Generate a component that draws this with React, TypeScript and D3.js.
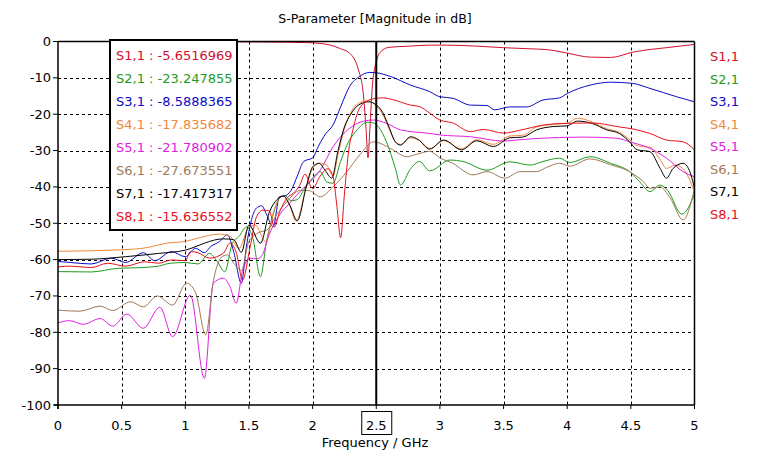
import React from "react";
import * as d3 from "d3";

type Pt = [number, number];

const xTicks = [0, 0.5, 1, 1.5, 2, 2.5, 3, 3.5, 4, 4.5, 5];
const yTicks = [0, -10, -20, -30, -40, -50, -60, -70, -80, -90, -100];
const seriesNames = ["S1,1", "S2,1", "S3,1", "S4,1", "S5,1", "S6,1", "S7,1", "S8,1"];
const markerValues = ["-5.6516969", "-23.247855", "-8.5888365", "-17.835682", "-21.780902", "-27.673551", "-17.417317", "-15.636552"];
const seriesColors = ["#d0102c", "#1e9a1e", "#0a0ac8", "#f0883a", "#e020e0", "#a07a58", "#000000", "#e8101c"];
const markerFreq = 2.5;

const s11: Pt[] = [[0,0],[0.5,0],[1,-0.05],[1.5,-0.1],[1.8,-0.2],[1.95,-0.3],[2.05,-0.5],[2.14,-1],[2.22,-2],[2.29,-3.2],[2.36,-7.8],[2.4,-15],[2.42,-24],[2.435,-32],[2.45,-24],[2.47,-12],[2.5,-5.65],[2.53,-3],[2.6,-1.6],[2.75,-1.3],[2.92,-1.0],[3.05,-1.0],[3.3,-1.3],[3.5,-1.7],[3.7,-2.0],[3.86,-2.3],[4.0,-3.2],[4.18,-4.3],[4.34,-4.4],[4.52,-2.9],[4.65,-2.2],[4.78,-1.7],[5,-0.8]];
const s21: Pt[] = [[0,-63.3],[0.26,-63.4],[0.47,-62.4],[0.65,-62.2],[0.79,-61.8],[0.88,-61],[1.0,-60.8],[1.1,-61.2],[1.19,-58.3],[1.25,-60.5],[1.31,-63.3],[1.37,-55.5],[1.42,-53.7],[1.48,-51],[1.53,-54],[1.59,-64.7],[1.64,-54.6],[1.68,-49],[1.73,-43.6],[1.78,-42.3],[1.83,-43.8],[1.88,-43.5],[1.93,-40.9],[2.0,-37.6],[2.06,-35.8],[2.11,-38.6],[2.16,-39],[2.22,-33],[2.27,-28.5],[2.35,-24.3],[2.43,-22.2],[2.48,-22.4],[2.52,-23.6],[2.58,-27.6],[2.65,-34.9],[2.69,-39.5],[2.77,-35],[2.84,-33],[2.92,-35.6],[3.08,-32.6],[3.18,-33],[3.37,-35.4],[3.55,-33.1],[3.71,-34],[3.81,-33],[3.94,-32.1],[4.02,-33.3],[4.18,-31.7],[4.34,-33.5],[4.49,-35.8],[4.57,-38.6],[4.65,-41.3],[4.73,-39.5],[4.79,-41],[4.9,-47.5],[5,-42]];
const s31: Pt[] = [[0,-60.5],[0.1,-60.8],[0.26,-61.2],[0.42,-59.6],[0.53,-60.8],[0.67,-58.1],[0.76,-60.3],[0.89,-57.8],[1.0,-59.2],[1.08,-56.9],[1.15,-58.1],[1.2,-56.4],[1.27,-55],[1.33,-53.2],[1.38,-57.8],[1.44,-66.5],[1.48,-56.4],[1.52,-49],[1.56,-45.8],[1.6,-45.2],[1.64,-47.7],[1.69,-51],[1.74,-42.7],[1.78,-42.5],[1.83,-41],[1.88,-37],[1.93,-33],[2.0,-32],[2.05,-28.5],[2.1,-25.5],[2.16,-23],[2.22,-18],[2.29,-12.4],[2.37,-9.6],[2.45,-8.5],[2.5,-8.6],[2.61,-9.6],[2.77,-12],[2.92,-13.8],[3.0,-15.2],[3.1,-15.6],[3.24,-17.5],[3.37,-17.6],[3.43,-18.8],[3.55,-18],[3.68,-18],[3.81,-16.1],[3.94,-15.5],[4.0,-14.3],[4.18,-12],[4.34,-11.2],[4.51,-11.5],[4.65,-12.9],[4.86,-15.2],[5,-16.6]];
const s41: Pt[] = [[0,-57.7],[0.5,-57.3],[0.7,-56.7],[0.85,-55.5],[1.0,-55],[1.1,-54.1],[1.26,-53],[1.35,-53.5],[1.42,-57],[1.5,-51],[1.55,-50.5],[1.63,-55],[1.7,-46],[1.77,-42.5],[1.82,-45],[1.87,-49.5],[1.95,-40],[2.0,-35],[2.06,-33.5],[2.11,-34],[2.16,-37],[2.2,-31],[2.25,-24],[2.3,-19.5],[2.36,-17],[2.44,-16.3],[2.5,-17.8],[2.55,-20],[2.6,-24],[2.65,-27.6],[2.69,-28.3],[2.77,-26.5],[2.83,-27],[2.92,-29.4],[3.03,-27.3],[3.17,-29.5],[3.29,-27],[3.42,-28.3],[3.55,-26],[3.65,-25.8],[3.76,-23.5],[3.89,-22.8],[4.0,-22.5],[4.08,-21.1],[4.2,-22.2],[4.31,-24],[4.41,-25],[4.49,-27],[4.55,-28.7],[4.65,-29.1],[4.73,-32.5],[4.78,-34.9],[4.85,-34],[4.91,-35],[5,-41.3]];
const s51: Pt[] = [[0,-77.4],[0.09,-76.8],[0.2,-77.8],[0.33,-76.2],[0.43,-78.3],[0.54,-75],[0.67,-78.9],[0.8,-73.1],[0.9,-81.2],[1.04,-69.8],[1.15,-92.7],[1.22,-66.5],[1.3,-65.1],[1.35,-67.4],[1.4,-72],[1.45,-63],[1.51,-59.6],[1.56,-59.8],[1.6,-59],[1.66,-53],[1.74,-47.7],[1.82,-44.5],[1.9,-41.3],[1.98,-38.6],[2.06,-35.4],[2.16,-29],[2.29,-23.9],[2.4,-21.9],[2.48,-21.6],[2.58,-22.5],[2.69,-24.3],[2.92,-25.3],[3.0,-25.7],[3.24,-26.2],[3.5,-27.4],[3.63,-27],[3.94,-26.4],[4.13,-26.3],[4.39,-26.6],[4.49,-27.6],[4.65,-29.4],[4.78,-32.1],[4.91,-35.8],[5,-37.2]];
const s61: Pt[] = [[0,-73.9],[0.17,-74.2],[0.33,-72.8],[0.43,-74],[0.57,-71.6],[0.67,-73],[0.78,-70],[0.9,-72.5],[1.01,-66.5],[1.08,-69],[1.16,-80.7],[1.22,-66],[1.28,-59.5],[1.33,-58.7],[1.38,-61],[1.44,-63],[1.5,-55],[1.58,-52.5],[1.64,-51.9],[1.72,-47.5],[1.8,-44],[1.9,-41],[1.97,-41],[2.06,-42.7],[2.16,-40],[2.27,-35.8],[2.37,-31.2],[2.48,-27.6],[2.53,-28],[2.63,-29.8],[2.74,-31.7],[2.82,-31],[2.92,-30.2],[3.0,-32],[3.1,-33.5],[3.26,-36.7],[3.37,-35.8],[3.51,-37.6],[3.63,-35.8],[3.76,-35.8],[3.84,-34.6],[3.94,-33.5],[4.02,-34.3],[4.18,-32.3],[4.34,-33.9],[4.49,-35.8],[4.6,-38.6],[4.65,-40.4],[4.73,-40],[4.81,-43.1],[4.91,-49.1],[5,-40.5]];
const s71: Pt[] = [[0,-60],[0.26,-59.9],[0.53,-59.2],[0.79,-58.3],[1.0,-57.4],[1.15,-55.5],[1.23,-54.6],[1.3,-54.3],[1.38,-54.5],[1.44,-58],[1.5,-50.5],[1.59,-55.5],[1.66,-47],[1.72,-43.5],[1.77,-42.5],[1.82,-45],[1.88,-49.3],[1.95,-40],[2.0,-34.5],[2.05,-33.5],[2.1,-35.5],[2.15,-37.6],[2.2,-30],[2.25,-23.5],[2.3,-20],[2.36,-17.5],[2.44,-16.6],[2.5,-17.4],[2.55,-19.5],[2.6,-23.5],[2.65,-27.6],[2.69,-28.5],[2.77,-26.2],[2.83,-27],[2.92,-29.6],[3.03,-27.1],[3.17,-29.8],[3.29,-27.3],[3.42,-28.9],[3.55,-26.5],[3.65,-26.3],[3.76,-24.3],[3.89,-23.4],[4.0,-23.2],[4.08,-21.9],[4.2,-22.6],[4.31,-24.3],[4.41,-25.3],[4.49,-27.6],[4.55,-29.8],[4.65,-30.3],[4.73,-34.9],[4.78,-37.6],[4.83,-35],[4.91,-33.5],[4.96,-35.5],[5,-40.4]];
const s81: Pt[] = [[0,-62],[0.1,-61.8],[0.26,-62.2],[0.39,-61],[0.53,-61.8],[0.68,-60.6],[0.79,-61],[0.89,-60.1],[1.0,-60.3],[1.04,-57.8],[1.1,-58.1],[1.19,-59.6],[1.3,-58.2],[1.35,-55.5],[1.4,-58],[1.45,-65.6],[1.51,-56.4],[1.56,-48.2],[1.61,-46.4],[1.66,-46.6],[1.7,-51],[1.74,-47],[1.8,-43],[1.85,-41.7],[1.9,-39.5],[1.94,-36.5],[2.0,-40.5],[2.06,-37],[2.12,-35],[2.16,-37],[2.19,-45],[2.22,-54],[2.25,-42],[2.28,-31],[2.32,-23.8],[2.37,-18.3],[2.45,-16],[2.5,-15.6],[2.55,-15.5],[2.63,-16],[2.77,-17.5],[2.84,-17.9],[2.92,-19.7],[3.0,-21.6],[3.1,-22.4],[3.24,-24.8],[3.34,-24.2],[3.5,-25.2],[3.63,-24.4],[3.81,-23],[4.0,-22.5],[4.2,-22.4],[4.39,-23.4],[4.52,-24.1],[4.65,-25.3],[4.78,-27.1],[4.91,-27.6],[5,-29.8]];

const seriesData = [s11, s21, s31, s41, s51, s61, s71, s81];

const W = 774, H = 459;
const L = 58, R = 694.5, T = 41.5, B = 405;
const FONT = "'DejaVu Sans', Verdana, sans-serif";

export default function App() {
  const x = d3.scaleLinear().domain([0, 5]).range([L, R]);
  const y = d3.scaleLinear().domain([-100, 0]).range([B, T]);
  const line = d3.line<Pt>().x(d => x(d[0])).y(d => y(d[1])).curve(d3.curveMonotoneX);
  const mx = x(markerFreq);

  return (
    <svg width={W} height={H} style={{ position: "absolute", left: 0, top: 0, background: "#fff" }} fontFamily={FONT}>
      <defs>
        <clipPath id="plot"><rect x={L} y={T - 1} width={R - L} height={B - T + 1} /></clipPath>
      </defs>
      <rect x={0} y={0} width={W} height={H} fill="#fff" />
      <text x={375} y={23} textAnchor="middle" fontSize={12.5} fill="#000">S-Parameter [Magnitude in dB]</text>

      {/* grid */}
      {yTicks.filter(t => t !== 0 && t !== -100).map(t => (
        <line key={"gy" + t} x1={L} x2={R} y1={Math.round(y(t)) + 0.5} y2={Math.round(y(t)) + 0.5} stroke="#000" strokeDasharray="3,3" strokeWidth={1} />
      ))}
      {xTicks.filter(t => t !== 0 && t !== 5).map(t => (
        <line key={"gx" + t} y1={T} y2={B} x1={Math.round(x(t)) + 0.5} x2={Math.round(x(t)) + 0.5} stroke="#000" strokeDasharray="3,3" strokeWidth={1} />
      ))}

      {/* curves */}
      <g clipPath="url(#plot)">
        {seriesData.map((d, i) => (
          <path key={i} d={line(d) || ""} fill="none" stroke={seriesColors[i]} strokeWidth={1} />
        ))}
      </g>

      {/* frame */}
      <line x1={L} x2={R} y1={T} y2={T} stroke="#000" strokeWidth={1.5} />
      <line x1={R} x2={R} y1={T} y2={B} stroke="#000" strokeWidth={1.5} />
      <line x1={L} x2={L} y1={T} y2={B + 4} stroke="#000" strokeWidth={1.5} />
      <line x1={L - 4} x2={R} y1={B} y2={B} stroke="#000" strokeWidth={1.5} />

      {/* marker line */}
      <line x1={mx} x2={mx} y1={T} y2={B} stroke="#000" strokeWidth={2} />

      {/* y ticks */}
      {yTicks.map(t => (
        <g key={"yt" + t}>
          <line x1={L - 5} x2={L} y1={y(t)} y2={y(t)} stroke="#000" />
          <text x={51} y={y(t) + 4.5} textAnchor="end" fontSize={13} fill="#000">{t}</text>
        </g>
      ))}
      {/* x ticks */}
      {xTicks.map(t => (
        <g key={"xt" + t}>
          <line x1={x(t)} x2={x(t)} y1={B} y2={B + 4} stroke="#000" />
          <text x={x(t)} y={430} textAnchor="middle" fontSize={13} fill="#000">{t}</text>
        </g>
      ))}
      <rect x={mx - 14.5} y={411.5} width={30} height={23} fill="none" stroke="#000" strokeWidth={1} />
      <text x={375} y={447} textAnchor="middle" fontSize={13} fill="#000">Frequency / GHz</text>

      {/* marker legend box */}
      <rect x={110} y={40} width={127} height={190} fill="#fff" stroke="#000" strokeWidth={2} />
      {seriesNames.map((n, i) => (
        <text key={"lg" + n} x={116} y={60 + i * 23} fontSize={13} fill={seriesColors[i]}>{n} : {markerValues[i]}</text>
      ))}

      {/* right labels */}
      {seriesNames.map((n, i) => (
        <text key={"rl" + n} x={710} y={61 + i * 22.5} fontSize={13} fill={seriesColors[i]}>{n}</text>
      ))}
    </svg>
  );
}
